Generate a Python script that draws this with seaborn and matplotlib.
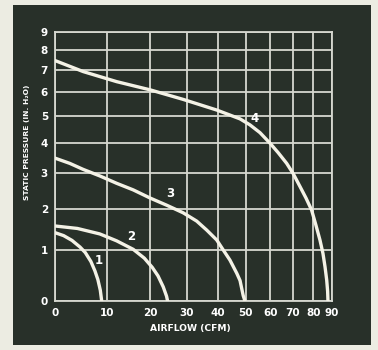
import numpy as np
import pandas as pd
import matplotlib
matplotlib.use("Agg")
import matplotlib.pyplot as plt
from matplotlib.patches import Rectangle
import seaborn as sns

# Fan performance curves: static pressure (in. H2O) vs airflow (CFM)
curve1_cfm = [0, 1.5, 3.0, 4.5, 5.5, 6.6, 7.4, 8.0, 8.5, 8.8]
curve1_pres = [1.40, 1.33, 1.22, 1.07, 0.95, 0.76, 0.57, 0.40, 0.20, 0.0]

curve2_cfm = [0, 4.0, 8.4, 12.0, 15.8, 18.5, 20.5, 22.0, 23.4, 24.3, 24.6]
curve2_pres = [1.56, 1.50, 1.37, 1.21, 1.02, 0.83, 0.64, 0.47, 0.26, 0.09, 0.0]

curve3_cfm = [0, 2.6, 5.1, 8.4, 12.0, 15.8, 20.0, 24.3, 29.0, 33.1, 36.3, 39.6,
              41.8, 44.2, 46.7, 47.9, 49.1, 49.8]
curve3_pres = [3.48, 3.31, 3.12, 2.92, 2.70, 2.51, 2.28, 2.09, 1.89, 1.68, 1.46, 1.23,
               1.01, 0.79, 0.52, 0.38, 0.10, 0.0]

curve4_cfm = [0, 5.1, 12.0, 20.0, 29.0, 39.6, 44.2, 47.9, 51.7, 55.7, 59.9, 63.4,
              67.2, 70.3, 73.5, 76.4, 79.2, 81.4, 83.5, 85.1, 86.2, 87.1, 87.6, 87.8]
curve4_pres = [7.46, 6.92, 6.45, 6.08, 5.67, 5.23, 5.03, 4.88, 4.65, 4.36, 3.98, 3.66,
               3.31, 2.98, 2.60, 2.28, 1.96, 1.58, 1.23, 0.93, 0.65, 0.39, 0.18, 0.0]

curve_names = ["1", "2", "3", "4"]
label_cfm = [8.1, 15.4, 25.3, 53.7]
label_pres = [0.79, 1.31, 2.41, 4.90]

x_ticks = [0, 10, 20, 30, 40, 50, 60, 70, 80, 90]
y_ticks = [0, 1, 2, 3, 4, 5, 6, 7, 8, 9]

frames = []
for name, xs, ys in zip(curve_names,
                        [curve1_cfm, curve2_cfm, curve3_cfm, curve4_cfm],
                        [curve1_pres, curve2_pres, curve3_pres, curve4_pres]):
    frames.append(pd.DataFrame({"cfm": xs, "pressure": ys, "fan": name}))
df = pd.concat(frames, ignore_index=True)

sns.set_theme(style="dark")
plt.rcParams["font.family"] = ["Liberation Sans Narrow", "DejaVu Sans"]

panel = "#283029"
grid_c = "#d6d8d0"
curve_c = "#f4f2e6"

fig = plt.figure(figsize=(3.78, 3.5), dpi=100, facecolor="#ecece2")
fig.patches.append(Rectangle((13 / 378, 1 - 345 / 350), (371 - 13) / 378, (345 - 5) / 350,
                             transform=fig.transFigure, facecolor=panel,
                             edgecolor="none", zorder=-5))

ax = fig.add_axes([55 / 378, 1 - 301.3 / 350, (332 - 55) / 378, (301.3 - 31.7) / 350])
ax.set_facecolor(panel)

# Compressed grid: logarithmic with an offset on both axes
ax.set_xscale("function", functions=(lambda v: np.log(np.asarray(v) + 40.0),
                                     lambda u: np.exp(u) - 40.0))
ax.set_yscale("function", functions=(lambda v: np.log(np.asarray(v) + 4.0),
                                     lambda u: np.exp(u) - 4.0))

sns.lineplot(data=df, x="cfm", y="pressure", units="fan", estimator=None,
             sort=False, color=curve_c, linewidth=2.4, ax=ax, zorder=3)

ax.set_xlim(0, 90)
ax.set_ylim(0, 9)
ax.set_xticks(x_ticks)
ax.set_yticks(y_ticks)
ax.set_xticklabels([str(t) for t in x_ticks])
ax.set_yticklabels([str(t) for t in y_ticks])
ax.grid(True, color=grid_c, linewidth=1.3)
ax.set_axisbelow(True)
for s in ax.spines.values():
    s.set_visible(True)
    s.set_color(grid_c)
    s.set_linewidth(1.3)

ax.tick_params(axis="both", length=0, colors="white", labelsize=7.5)
ax.tick_params(axis="x", pad=5)
ax.tick_params(axis="y", pad=5)
for lab in ax.get_xticklabels() + ax.get_yticklabels():
    lab.set_fontweight("bold")

ax.set_xlabel("AIRFLOW (CFM)", color="white", fontsize=6.6, fontweight="bold")
ax.set_ylabel("STATIC PRESSURE (IN. H₂O)", color="white", fontsize=5.4,
              fontweight="bold")
ax.xaxis.set_label_coords(0.49, -0.085)
ax.yaxis.set_label_coords(-0.09, 0.59)

for name, lx, ly in zip(curve_names, label_cfm, label_pres):
    ax.text(lx, ly, name, color="white", fontsize=8.5, fontweight="bold",
            ha="center", va="center", zorder=4)

fig.savefig("out.png", dpi=100, facecolor=fig.get_facecolor())
